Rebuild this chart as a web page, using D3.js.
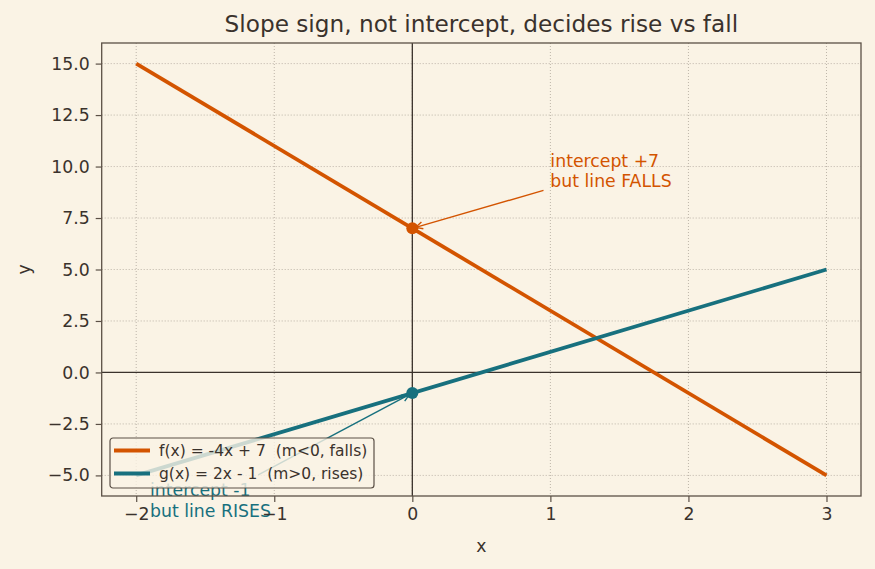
<!DOCTYPE html>
<html>
<head>
<meta charset="utf-8">
<script src="https://cdn.jsdelivr.net/npm/d3@7"></script>
<style>
  html, body { margin: 0; padding: 0; background: #faf3e5; }
  svg { display: block; font-family: "DejaVu Sans", sans-serif; }
</style>
</head>
<body>
<div id="chart"></div>
<script>
// Data
const xEnds = [-2, 3];
const fValues = [15, -5];
const gValues = [-5, 5];
const seriesNames = ["f(x) = -4x + 7  (m<0, falls)", "g(x) = 2x - 1  (m>0, rises)"];
const interceptX = [0, 0];
const interceptY = [7, -1];
const xTicks = [-2, -1, 0, 1, 2, 3];
const yTicks = [-5, -2.5, 0, 2.5, 5, 7.5, 10, 12.5, 15];
const noteLines = [["intercept +7", "but line FALLS"], ["intercept -1", "but line RISES"]];
const noteAt = [[1, 9], [-1.9, -7]];

const colors = ["#d35400", "#17707e"];
const ink = "#3a322c";
const frame = "#5b5046";

// Dimensions
let dimensions = {
  width: 875,
  height: 569,
  margin: { top: 43, bottom: 73, left: 101.7, right: 14 },
};
dimensions.containerWidth = dimensions.width - dimensions.margin.left - dimensions.margin.right;
dimensions.containerHeight = dimensions.height - dimensions.margin.top - dimensions.margin.bottom;

const svg = d3.select("#chart").append("svg")
  .attr("width", dimensions.width)
  .attr("height", dimensions.height);

svg.append("rect").attr("width", dimensions.width).attr("height", dimensions.height).attr("fill", "#faf3e5");

const container = svg.append("g")
  .attr("transform", `translate(${dimensions.margin.left}, ${dimensions.margin.top})`);

// Scales
const xScale = d3.scaleLinear().domain([-2.25, 3.25]).range([0, dimensions.containerWidth]);
const yScale = d3.scaleLinear().domain([-6, 16]).range([dimensions.containerHeight, 0]);

// Grid
const grid = container.append("g");
grid.selectAll(".gx").data(xTicks).join("line")
  .attr("x1", d => xScale(d)).attr("x2", d => xScale(d))
  .attr("y1", 0).attr("y2", dimensions.containerHeight)
  .attr("stroke", "#ada499").attr("stroke-width", 0.8).attr("stroke-dasharray", "1,2");
grid.selectAll(".gy").data(yTicks).join("line")
  .attr("y1", d => yScale(d)).attr("y2", d => yScale(d))
  .attr("x1", 0).attr("x2", dimensions.containerWidth)
  .attr("stroke", "#ada499").attr("stroke-width", 0.8).attr("stroke-dasharray", "1,2");

// Zero lines
container.append("line")
  .attr("x1", xScale(0)).attr("x2", xScale(0)).attr("y1", 0).attr("y2", dimensions.containerHeight)
  .attr("stroke", ink).attr("stroke-width", 1.3);
container.append("line")
  .attr("y1", yScale(0)).attr("y2", yScale(0)).attr("x1", 0).attr("x2", dimensions.containerWidth)
  .attr("stroke", ink).attr("stroke-width", 1.3);

// Lines
const line = d3.line().x(d => xScale(d[0])).y(d => yScale(d[1]));
[fValues, gValues].forEach((vals, i) => {
  container.append("path")
    .datum(xEnds.map((x, j) => [x, vals[j]]))
    .attr("d", line)
    .attr("fill", "none")
    .attr("stroke", colors[i])
    .attr("stroke-width", 3.8);
});

// Intercept dots
container.selectAll("circle").data(interceptY).join("circle")
  .attr("cx", (d, i) => xScale(interceptX[i]))
  .attr("cy", d => yScale(d))
  .attr("r", 6)
  .attr("fill", (d, i) => colors[i]);

// Annotations
noteLines.forEach((lines, i) => {
  const tx = xScale(noteAt[i][0]);
  const ty = yScale(noteAt[i][1]);
  const lh = 20.5;
  const t = container.append("text")
    .attr("fill", colors[i])
    .style("font-size", "17.3px");
  lines.forEach((s, k) => {
    t.append("tspan").attr("x", tx).attr("y", ty - (lines.length - 1 - k) * lh).text(s);
  });
  const bb = t.node().getBBox();
  const pad = 3.5;
  const cx = bb.x + bb.width / 2, cy = bb.y + bb.height / 2;
  const px = xScale(interceptX[i]), py = yScale(interceptY[i]);
  const dx = px - cx, dy = py - cy;
  const len = Math.hypot(dx, dy);
  const ux = dx / len, uy = dy / len;
  const tEdge = Math.min((bb.width / 2 + pad) / Math.abs(dx), (bb.height / 2 + pad) / Math.abs(dy));
  const sx = cx + dx * tEdge + ux * 3.5, sy = cy + dy * tEdge + uy * 3.5;
  const ex = px - ux * 3.5, ey = py - uy * 3.5;
  const g = container.append("g").attr("stroke", colors[i]).attr("stroke-width", 1.4).attr("fill", "none");
  g.append("line").attr("x1", sx).attr("y1", sy).attr("x2", ex).attr("y2", ey);
  const hl = 7, hw = 3.5;
  const bx = ex - ux * hl, by = ey - uy * hl;
  g.append("path")
    .attr("d", `M${bx - uy * hw},${by + ux * hw}L${ex},${ey}L${bx + uy * hw},${by - ux * hw}`);
});

// Axes
const xAxis = d3.axisBottom(xScale).tickValues(xTicks).tickSizeInner(6).tickSizeOuter(0).tickPadding(6)
  .tickFormat(d => d < 0 ? "\u2212" + Math.abs(d) : d);
const xAxisGroup = container.append("g")
  .attr("transform", `translate(0, ${dimensions.containerHeight})`)
  .call(xAxis);
const yAxis = d3.axisLeft(yScale).tickValues(yTicks).tickSizeInner(6).tickSizeOuter(0).tickPadding(6)
  .tickFormat(d => (d < 0 ? "\u2212" : "") + d3.format(".1f")(Math.abs(d)));
const yAxisGroup = container.append("g").call(yAxis);
[xAxisGroup, yAxisGroup].forEach(g => {
  g.select(".domain").remove();
  g.selectAll(".tick line").attr("stroke", frame).attr("stroke-width", 1.2);
  g.selectAll(".tick text").attr("fill", ink).style("font-size", "17.3px").style("font-family", "DejaVu Sans");
});

// Frame
container.append("rect")
  .attr("width", dimensions.containerWidth).attr("height", dimensions.containerHeight)
  .attr("fill", "none").attr("stroke", frame).attr("stroke-width", 1.3);

// Labels
svg.append("text")
  .attr("x", dimensions.margin.left + dimensions.containerWidth / 2).attr("y", 32)
  .attr("text-anchor", "middle").attr("fill", ink).style("font-size", "23.2px")
  .text("Slope sign, not intercept, decides rise vs fall");
svg.append("text")
  .attr("x", dimensions.margin.left + dimensions.containerWidth / 2).attr("y", 552)
  .attr("text-anchor", "middle").attr("fill", ink).style("font-size", "17.3px")
  .text("x");
svg.append("text")
  .attr("transform", `translate(30, ${dimensions.margin.top + dimensions.containerHeight / 2}) rotate(-90)`)
  .attr("text-anchor", "middle").attr("fill", ink).style("font-size", "17.3px")
  .text("y");

// Legend
const legend = container.append("g").attr("transform", `translate(${110 - dimensions.margin.left}, ${438 - dimensions.margin.top})`);
legend.append("rect")
  .attr("width", 264).attr("height", 50).attr("rx", 3)
  .attr("fill", "#faf3e5").attr("fill-opacity", 0.8)
  .attr("stroke", frame).attr("stroke-width", 1.2);
seriesNames.forEach((name, i) => {
  const y = 12.5 + i * 23;
  legend.append("line").attr("x1", 4).attr("x2", 40).attr("y1", y).attr("y2", y)
    .attr("stroke", colors[i]).attr("stroke-width", 3.8);
  legend.append("text").attr("x", 49).attr("y", y).attr("dy", "0.36em")
    .attr("fill", ink).style("font-size", "15.5px").style("white-space", "pre").text(name);
});
</script>
</body>
</html>
